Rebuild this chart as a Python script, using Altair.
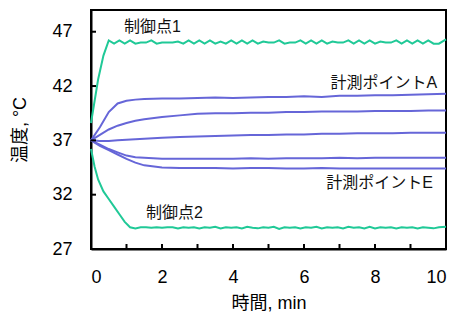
import altair as alt
import pandas as pd

# ---------------- data ----------------
# control point 1 (green, upper)
t_cp1 = [0, 0.2, 0.35, 0.5, 0.65, 0.8, 0.95, 1.1, 1.25, 1.4,
         1.55, 1.7, 1.85, 2.0, 2.15, 2.3, 2.45, 2.6, 2.75, 2.9,
         3.05, 3.2, 3.35, 3.5, 3.65, 3.8, 3.95, 4.1, 4.25, 4.4,
         4.55, 4.7, 4.85, 5.0, 5.15, 5.3, 5.45, 5.6, 5.75, 5.9,
         6.05, 6.2, 6.35, 6.5, 6.65, 6.8, 6.95, 7.1, 7.25, 7.4,
         7.55, 7.7, 7.85, 8.0, 8.15, 8.3, 8.45, 8.6, 8.75, 8.9,
         9.05, 9.2, 9.35, 9.5, 9.65, 9.8, 10.0]
v_cp1 = [38.6, 42.6, 44.8, 46.2, 45.9, 46.2, 45.9, 46.2, 45.9, 46.0,
         46.0, 46.2, 45.9, 46.0, 46.0, 46.0, 46.1, 45.9, 46.2, 45.9,
         46.2, 45.9, 46.2, 45.9, 46.1, 45.9, 46.2, 45.9, 46.2, 45.9,
         46.2, 45.9, 46.1, 46.0, 46.0, 46.2, 45.9, 46.0, 46.0, 46.2,
         45.9, 46.2, 45.9, 46.2, 45.9, 46.1, 46.0, 46.0, 46.2, 45.9,
         46.2, 45.9, 46.2, 45.9, 46.1, 46.0, 46.0, 46.2, 45.9, 46.2,
         45.9, 46.2, 45.9, 46.2, 45.9, 45.9, 46.3]

# control point 2 (green, lower)
t_cp2 = [0, 0.1, 0.2, 0.35, 0.5, 0.65, 0.8, 0.95, 1.1, 1.25,
         1.4, 1.55, 1.7, 1.85, 2.0, 2.15, 2.3, 2.45, 2.6, 2.75,
         2.9, 3.05, 3.2, 3.35, 3.5, 3.65, 3.8, 3.95, 4.1, 4.25,
         4.4, 4.55, 4.7, 4.85, 5.0, 5.15, 5.3, 5.45, 5.6, 5.75,
         5.9, 6.05, 6.2, 6.35, 6.5, 6.65, 6.8, 6.95, 7.1, 7.25,
         7.4, 7.55, 7.7, 7.85, 8.0, 8.15, 8.3, 8.45, 8.6, 8.75,
         8.9, 9.05, 9.2, 9.35, 9.5, 9.65, 9.8, 10.0]
v_cp2 = [36.2, 34.6, 33.4, 32.3, 31.6, 30.9, 30.2, 29.5, 29.0, 28.9,
         29.0, 29.0, 28.95, 29.0, 28.95, 29.0, 29.0, 28.9, 29.0, 28.95,
         29.0, 28.9, 29.0, 28.95, 29.05, 28.9, 29.0, 28.95, 29.0, 28.9,
         29.05, 28.95, 28.9, 29.0, 28.95, 29.05, 28.85, 29.0, 28.95, 29.0,
         28.9, 29.0, 28.95, 29.05, 28.9, 29.0, 28.95, 29.0, 28.9, 29.05,
         28.95, 29.0, 28.9, 29.05, 28.9, 29.0, 28.95, 29.0, 28.9, 29.0,
         28.95, 29.0, 28.9, 29.0, 28.95, 28.9, 29.0, 29.05]

# measurement points A..E (blue)
t_meas = [0, 0.25, 0.5, 0.75, 1.0, 1.25, 1.5, 2, 2.5, 3, 3.5, 4,
          4.5, 5, 5.5, 6, 6.5, 7, 7.5, 8, 8.5, 9, 9.5, 10]
v_A = [37.0, 38.2, 39.6, 40.4, 40.65, 40.75, 40.8, 40.85, 40.85, 40.9, 40.95, 40.9,
       40.95, 41.0, 41.0, 41.05, 41.0, 41.1, 41.1, 41.15, 41.15, 41.2, 41.25, 41.3]
v_B = [37.0, 37.5, 38.0, 38.35, 38.6, 38.8, 38.95, 39.15, 39.3, 39.45, 39.5, 39.5,
       39.55, 39.55, 39.6, 39.6, 39.65, 39.65, 39.65, 39.7, 39.7, 39.7, 39.75, 39.75]
v_C = [37.0, 36.95, 36.95, 37.0, 37.05, 37.1, 37.15, 37.25, 37.3, 37.35, 37.4, 37.45,
       37.5, 37.5, 37.55, 37.55, 37.6, 37.6, 37.65, 37.65, 37.65, 37.7, 37.7, 37.7]
v_D = [37.0, 36.6, 36.2, 35.9, 35.6, 35.45, 35.4, 35.3, 35.3, 35.3, 35.3, 35.3,
       35.35, 35.3, 35.35, 35.35, 35.35, 35.4, 35.35, 35.4, 35.4, 35.4, 35.4, 35.4]
v_E = [37.0, 36.5, 36.1, 35.7, 35.3, 34.95, 34.7, 34.5, 34.45, 34.45, 34.45, 34.4,
       34.45, 34.45, 34.4, 34.4, 34.45, 34.4, 34.4, 34.4, 34.4, 34.4, 34.4, 34.4]

# annotations (data coordinates)
ann_text = ["制御点1", "計測ポイントA", "計測ポイントE", "制御点2"]
ann_t = [0.93, 9.75, 9.63, 1.55]
ann_v = [47.45, 42.3, 33.1, 30.3]
ann_align = ["left", "right", "right", "left"]

x_ticks = [0, 1, 2, 3, 4, 5, 6, 7, 8, 9, 10]
y_ticks = [27, 32, 37, 42, 47]

# ---------------- build tables ----------------
rows = []
for t, v in zip(t_cp1, v_cp1):
    rows.append({"series": "cp1", "t": t, "v": v, "kind": "control"})
for t, v in zip(t_cp2, v_cp2):
    rows.append({"series": "cp2", "t": t, "v": v, "kind": "control"})
for name, vals in [("A", v_A), ("B", v_B), ("C", v_C), ("D", v_D), ("E", v_E)]:
    for t, v in zip(t_meas, vals):
        rows.append({"series": name, "t": t, "v": v, "kind": "measure"})
df = pd.DataFrame(rows)

ann = pd.DataFrame({"text": ann_text, "t": ann_t, "v": ann_v, "align": ann_align})
xt = pd.DataFrame({"t": x_ticks})
yt = pd.DataFrame({"v": y_ticks})

FONT = "Liberation Sans, Noto Sans CJK JP"
W, H = 355, 239
TICK = 5

xscale = alt.Scale(domain=[0, 10], nice=False, zero=False)
yscale = alt.Scale(domain=[27, 49], nice=False, zero=False)

xaxis = alt.Axis(values=x_ticks, labelExpr="datum.value % 2 == 0 ? datum.label : ''",
                 ticks=False, domain=True, domainColor="black", domainWidth=2, grid=False,
                 labelPadding=19, labelFontSize=18, labelColor="black",
                 labelFont=FONT, title="時間, min", titleFont=FONT, titleFontSize=18,
                 titleFontWeight="normal", titleColor="black", titlePadding=8)
yaxis = alt.Axis(values=y_ticks, ticks=False, domain=True, domainColor="black",
                 domainWidth=2, grid=False, labelPadding=19, labelFontSize=18,
                 labelColor="black", labelFont=FONT, title="温度, °C", titleFont=FONT,
                 titleFontSize=18, titleFontWeight="normal", titleColor="black",
                 titlePadding=22)

lines = alt.Chart(df).mark_line(strokeWidth=2, interpolate="linear").encode(
    x=alt.X("t:Q", scale=xscale, axis=xaxis),
    y=alt.Y("v:Q", scale=yscale, axis=yaxis),
    color=alt.Color("kind:N", scale=alt.Scale(domain=["control", "measure"],
                                              range=["#20c997", "#6666d8"]), legend=None),
    detail="series:N",
)

# inward tick marks on the bottom axis
xticks_layer = alt.Chart(xt).mark_rule(color="black", strokeWidth=2).encode(
    x=alt.X("t:Q", scale=xscale),
    y=alt.value(H - TICK), y2=alt.value(H),
)
# inward tick marks on the left axis
yticks_layer = alt.Chart(yt).mark_rule(color="black", strokeWidth=2).encode(
    y=alt.Y("v:Q", scale=yscale),
    x=alt.value(0), x2=alt.value(TICK),
)

text_left = alt.Chart(ann[ann["align"] == "left"]).mark_text(
    align="left", baseline="middle", fontSize=16, font=FONT, color="#111111"
).encode(x=alt.X("t:Q", scale=xscale), y=alt.Y("v:Q", scale=yscale), text="text:N")

text_right = alt.Chart(ann[ann["align"] == "right"]).mark_text(
    align="right", baseline="middle", fontSize=16, font=FONT, color="#111111"
).encode(x=alt.X("t:Q", scale=xscale), y=alt.Y("v:Q", scale=yscale), text="text:N")

chart = alt.layer(lines, xticks_layer, yticks_layer, text_left, text_right).properties(
    width=W, height=H,
    autosize=alt.AutoSizeParams(type="none"),
    padding={"left": 83, "top": 2, "right": 1, "bottom": 64},
    background="white",
).configure_view(stroke="black", strokeWidth=2)

chart.save("out.html", embed_options={"renderer": "svg", "actions": False})
